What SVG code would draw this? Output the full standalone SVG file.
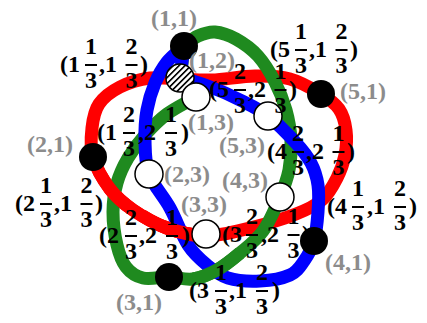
<svg xmlns="http://www.w3.org/2000/svg" width="427" height="323" viewBox="0 0 427 323">
<defs>
<pattern id="hatch" patternUnits="userSpaceOnUse" width="4.2" height="4.2" patternTransform="rotate(45)">
<rect width="4.2" height="4.2" fill="#fff"/>
<rect x="0" y="0" width="1.6" height="4.2" fill="#000"/>
</pattern>
</defs>
<style>
.loop{fill:none;stroke-width:13;stroke-linejoin:round;stroke-linecap:round}
.over{stroke-linecap:butt}
.red{stroke:#ff0000}
.green{stroke:#1f8a1f}
.blue{stroke:#0000ff}
.blk{fill:#000}
.wht{fill:#fff;stroke:#000;stroke-width:1.5}
.hat{fill:url(#hatch);stroke:#000;stroke-width:1.5}
.gl{font-family:"Liberation Serif","Times New Roman",serif;font-weight:bold;font-size:24px;fill:#8c8c8c}
.fr text{font-family:"Liberation Serif","Times New Roman",serif;font-weight:bold;font-size:24px;fill:#000}
.fr .m{text-anchor:middle}
.fr line{stroke:#000;stroke-width:2}
</style>
<rect width="427" height="323" fill="#fff"/>
<g id="connectors">
<path class="loop red" d="M93 157 C90 146.8 91 136.8 92 128 C93 119.2 94.3 110.8 99 104 C103.7 97.2 111.5 91.3 120 87 C128.5 82.7 140 79.3 150 78 C160 76.7 169.7 78.7 180 79 C190.3 79.3 199.5 80.5 212 80 C224.5 79.5 242 76.2 255 76 C268 75.8 279 76 290 79 C301 82 312.8 89 321 94 C329.2 99 334.8 103 339 109 C343.2 115 345 122.3 346 130 C347 137.7 346.5 147 345 155 C343.5 163 340.8 170.5 337 178 C333.2 185.5 328.8 194 322 200 C315.2 206 308 209.3 296 214 C284 218.7 265 224.3 250 228 C235 231.7 219.8 236 206 236 C192.2 236 179.2 232.3 167 228 C154.8 223.7 142.5 216.5 133 210 C123.5 203.5 116.7 197.8 110 189 C103.3 180.2 96 167.2 93 157 Z"/>
<path class="loop green" d="M184 46 C189 42 192.8 38.3 198 36 C203.2 33.7 208.7 31.5 215 32 C221.3 32.5 228.8 35 236 39 C243.2 43 251.5 48.8 258 56 C264.5 63.2 270.3 73 275 82 C279.7 91 283.3 100.3 286 110 C288.7 119.7 290.5 130 291 140 C291.5 150 290.8 160.5 289 170 C287.2 179.5 284.3 186.8 280 197 C275.7 207.2 269.7 221.7 263 231 C256.3 240.3 247.7 246.5 240 253 C232.3 259.5 224.8 265.7 217 270 C209.2 274.3 201 277.8 193 279 C185 280.2 177.3 277.2 169 277 C160.7 276.8 150.2 279.7 143 278 C135.8 276.3 130.3 272.5 126 267 C121.7 261.5 119.2 254.2 117 245 C114.8 235.8 113 222.3 113 212 C113 201.7 114.5 192 117 183 C119.5 174 123.3 166 128 158 C132.7 150 138.5 142.3 145 135 C151.5 127.7 158.5 120.3 167 114 C175.5 107.7 186.3 102.7 196 97 L180 80 L184 46 Z"/>
<path class="loop red over" d="M206 236 C192.2 236 179.2 232.3 167 228 C154.8 223.7 142.5 216.5 133 210 C123.5 203.5 116.7 197.8 110 189 C103.3 180.2 96 167.2 93 157"/>
<path class="loop blue" d="M184 46 C178 52 171.8 55.8 167 62 C162.2 68.2 158.3 75 155 83 C151.7 91 148.7 100.5 147 110 C145.3 119.5 144.7 129.3 145 140 C145.3 150.7 144.8 162.7 149 174 C153.2 185.3 163.5 196.2 170 208 C176.5 219.8 181.8 235.5 188 245 C194.2 254.5 200.3 259.5 207 265 C213.7 270.5 219.2 275.3 228 278 C236.8 280.7 249.7 281.5 260 281 C270.3 280.5 282.7 278.3 290 275 C297.3 271.7 300 266.7 304 261 C308 255.3 311.7 249.2 314 241 C316.3 232.8 317.3 221.3 318 212 C318.7 202.7 319.2 193.2 318 185 C316.8 176.8 314.7 170 311 163 C307.3 156 303.2 150.8 296 143 C288.8 135.2 277.3 123.2 268 116 C258.7 108.8 249.2 104.7 240 100 C230.8 95.3 223 91.7 213 88 C203 84.3 191 80 180 78 L184 46 Z"/>
<path class="loop red over" d="M206 236 C192.2 236 179.2 232.3 167 228 C158 224.8 150 220.5 142 215.5"/>
<path class="loop green over" d="M240 253 C232.3 259.5 224.8 265.7 217 270 C209.2 274.3 201 277.8 193 279"/>
</g>
<g id="n11"><circle class="blk" cx="184" cy="46" r="14"/><text class="gl" x="151" y="26">(1,1)</text></g>
<g id="n12"><circle class="hat" cx="180" cy="78" r="14"/><text class="gl" x="189" y="68">(1,2)</text></g>
<g id="n13"><circle class="wht" cx="196" cy="97" r="14"/><text class="gl" x="188" y="130">(1,3)</text></g>
<g id="n21"><circle class="blk" cx="93" cy="157" r="14"/><text class="gl" x="27" y="152">(2,1)</text></g>
<g id="n23"><circle class="wht" cx="149" cy="174" r="14"/><text class="gl" x="164" y="182">(2,3)</text></g>
<g id="n31"><circle class="blk" cx="169" cy="277" r="14"/><text class="gl" x="116" y="310">(3,1)</text></g>
<g id="n33"><circle class="wht" cx="206" cy="234" r="14"/><text class="gl" x="181" y="212">(3,3)</text></g>
<g id="n41"><circle class="blk" cx="314" cy="241" r="14"/><text class="gl" x="325" y="270">(4,1)</text></g>
<g id="n43"><circle class="wht" cx="280" cy="197" r="14"/><text class="gl" x="222" y="188">(4,3)</text></g>
<g id="n51"><circle class="blk" cx="321" cy="94" r="14"/><text class="gl" x="340" y="99">(5,1)</text></g>
<g id="n53"><circle class="wht" cx="268" cy="116" r="14"/><text class="gl" x="219" y="153">(5,3)</text></g>
<g id="coords" class="fr">
<g transform="translate(60,72)"><text x="0" y="0">(1</text><text class="m" x="31" y="-18">1</text><line x1="25" y1="-7" x2="37" y2="-7"/><text class="m" x="31" y="16">3</text><text x="39" y="0">,1</text><text class="m" x="71.5" y="-18">2</text><line x1="65.5" y1="-7" x2="77.5" y2="-7"/><text class="m" x="71.5" y="16">3</text><text x="80" y="0">)</text></g>
<g transform="translate(270,57)"><text x="0" y="0">(5</text><text class="m" x="31" y="-18">1</text><line x1="25" y1="-7" x2="37" y2="-7"/><text class="m" x="31" y="16">3</text><text x="39" y="0">,1</text><text class="m" x="71.5" y="-18">2</text><line x1="65.5" y1="-7" x2="77.5" y2="-7"/><text class="m" x="71.5" y="16">3</text><text x="80" y="0">)</text></g>
<g transform="translate(97,140)"><text x="0" y="0">(1</text><text class="m" x="32" y="-18">2</text><line x1="26" y1="-7" x2="38" y2="-7"/><text class="m" x="32" y="16">3</text><text x="41" y="0">,2</text><text class="m" x="74" y="-18">1</text><line x1="68" y1="-7" x2="80" y2="-7"/><text class="m" x="74" y="16">3</text><text x="84" y="0">)</text></g>
<g transform="translate(209,97)"><text x="0" y="0">(5</text><text class="m" x="31" y="-18">2</text><line x1="25" y1="-7" x2="37" y2="-7"/><text class="m" x="31" y="16">3</text><text x="39" y="0">,2</text><text class="m" x="71.5" y="-18">1</text><line x1="65.5" y1="-7" x2="77.5" y2="-7"/><text class="m" x="71.5" y="16">3</text><text x="80" y="0">)</text></g>
<g transform="translate(267,159)"><text x="0" y="0">(4</text><text class="m" x="31" y="-18">2</text><line x1="25" y1="-7" x2="37" y2="-7"/><text class="m" x="31" y="16">3</text><text x="39" y="0">,2</text><text class="m" x="71.5" y="-18">1</text><line x1="65.5" y1="-7" x2="77.5" y2="-7"/><text class="m" x="71.5" y="16">3</text><text x="80" y="0">)</text></g>
<g transform="translate(15,211)"><text x="0" y="0">(2</text><text class="m" x="31" y="-18">1</text><line x1="25" y1="-7" x2="37" y2="-7"/><text class="m" x="31" y="16">3</text><text x="39" y="0">,1</text><text class="m" x="71.5" y="-18">2</text><line x1="65.5" y1="-7" x2="77.5" y2="-7"/><text class="m" x="71.5" y="16">3</text><text x="80" y="0">)</text></g>
<g transform="translate(99,243)"><text x="0" y="0">(2</text><text class="m" x="32" y="-18">2</text><line x1="26" y1="-7" x2="38" y2="-7"/><text class="m" x="32" y="16">3</text><text x="40" y="0">,2</text><text class="m" x="73" y="-18">1</text><line x1="67" y1="-7" x2="79" y2="-7"/><text class="m" x="73" y="16">3</text><text x="83" y="0">)</text></g>
<g transform="translate(222,242)"><text x="0" y="0">(3</text><text class="m" x="30" y="-18">2</text><line x1="24" y1="-7" x2="36" y2="-7"/><text class="m" x="30" y="16">3</text><text x="39" y="0">,2</text><text class="m" x="71.5" y="-18">1</text><line x1="65.5" y1="-7" x2="77.5" y2="-7"/><text class="m" x="71.5" y="16">3</text><text x="80" y="0">)</text></g>
<g transform="translate(327,214)"><text x="0" y="0">(4</text><text class="m" x="31" y="-18">1</text><line x1="25" y1="-7" x2="37" y2="-7"/><text class="m" x="31" y="16">3</text><text x="40" y="0">,1</text><text class="m" x="73" y="-18">2</text><line x1="67" y1="-7" x2="79" y2="-7"/><text class="m" x="73" y="16">3</text><text x="82" y="0">)</text></g>
<g transform="translate(189,298)"><text x="0" y="0">(3</text><text class="m" x="32" y="-18">1</text><line x1="26" y1="-7" x2="38" y2="-7"/><text class="m" x="32" y="16">3</text><text x="40" y="0">,1</text><text class="m" x="73" y="-18">2</text><line x1="67" y1="-7" x2="79" y2="-7"/><text class="m" x="73" y="16">3</text><text x="83" y="0">)</text></g>
</g>
</svg>
